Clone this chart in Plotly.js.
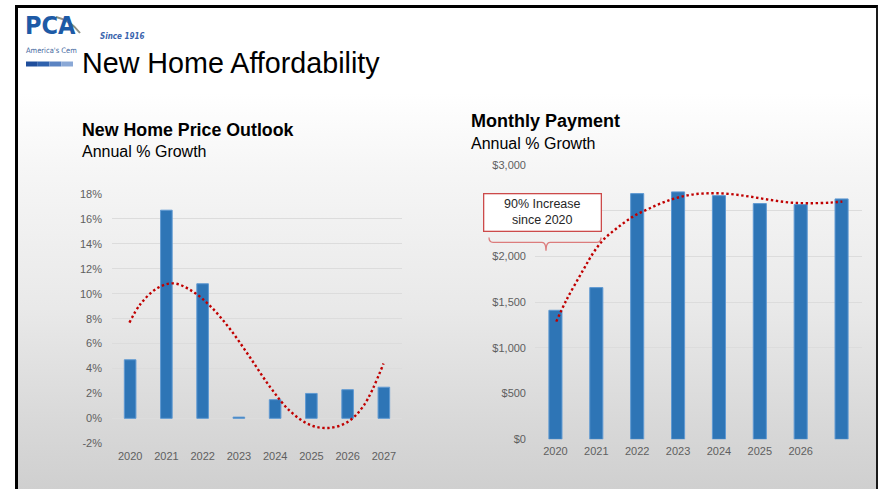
<!DOCTYPE html>
<html>
<head>
<meta charset="utf-8">
<script src="https://cdn.plot.ly/plotly-3.0.1.min.js"></script>
<style>
  html, body { margin:0; padding:0; background:#fff; }
  #frame { position:absolute; left:15px; top:5px; width:863px; height:484px; box-sizing:border-box;
    border-left:3px solid #000; border-top:3px solid #000; border-right:2px solid #1a1a1a;
    background: linear-gradient(to bottom, #ffffff 0px, #ffffff 85px, #f6f6f6 160px, #e9e9e9 300px, #d9d9d9 410px, #cfcfcf 484px); }
  #chart { position:absolute; left:0; top:0; width:879px; height:489px; }
</style>
</head>
<body>
<div id="frame"></div>
<div id="chart"></div>
<script>
// ---- data ----
const years = [2020, 2021, 2022, 2023, 2024, 2025, 2026, 2027];
const priceGrowth = [4.7, 16.7, 10.8, 0.1, 1.5, 2.0, 2.3, 2.5];
const priceTrendX = [2019.98, 2020.28, 2020.74, 2021.20, 2021.71, 2022.21, 2022.76, 2023.31, 2023.87, 2024.42, 2024.97, 2025.47, 2025.98, 2026.44, 2026.99];
const priceTrendY = [7.68, 9.15, 10.43, 10.83, 10.21, 9.01, 7.15, 4.88, 2.48, 0.56, -0.53, -0.77, -0.32, 1.01, 4.40];
const priceTickVals = [-2, 0, 2, 4, 6, 8, 10, 12, 14, 16, 18];
const priceTickText = ['-2%', '0%', '2%', '4%', '6%', '8%', '10%', '12%', '14%', '16%', '18%'];
const priceXTickVals = [2020, 2021, 2022, 2023, 2024, 2025, 2026, 2027];
const priceXTickText = ['2020', '2021', '2022', '2023', '2024', '2025', '2026', '2027'];

const payment = [1411, 1659, 2687, 2706, 2665, 2578, 2567, 2629];
const paymentTrendX = [2020.02, 2020.27, 2020.68, 2020.92, 2021.17, 2021.50, 2021.90, 2022.31, 2022.80, 2023.29, 2023.78, 2024.27, 2024.76, 2025.26, 2025.75, 2026.24, 2026.73, 2027.02];
const paymentTrendY = [1287, 1524, 1852, 2035, 2181, 2308, 2436, 2527, 2618, 2673, 2691, 2683, 2654, 2618, 2589, 2582, 2589, 2600];
const paymentTickVals = [0, 500, 1000, 1500, 2000, 2500, 3000];
const paymentTickText = ['$0', '$500', '$1,000', '$1,500', '$2,000', '', '$3,000'];
const paymentXTickVals = [2020, 2021, 2022, 2023, 2024, 2025, 2026];
const paymentXTickText = ['2020', '2021', '2022', '2023', '2024', '2025', '2026'];

// ---- helpers (pixel -> paper) ----
const W = 879, H = 489;
const X = p => p / W;
const Y = p => 1 - p / H;

const FONT = 'Liberation Sans, Arial, sans-serif';
const COND = 'DejaVu Sans Condensed, Liberation Sans Narrow, Arial Narrow, sans-serif';
const barColor = '#2e75b6';
const barEdge = '#5f99d2';
const trendColor = '#c00000';
const tickFont = {family: FONT, size: 11, color: '#5f5f5f'};

const traces = [
  {type:'bar', x: years, y: priceGrowth, xaxis:'x', yaxis:'y', width:0.32,
   marker:{color:barColor, line:{color:barEdge, width:1}}, hoverinfo:'skip'},
  {type:'scatter', mode:'lines', x: priceTrendX, y: priceTrendY, xaxis:'x', yaxis:'y',
   line:{color:trendColor, width:2.4, dash:'2.4px,2.6px', shape:'spline', smoothing:1}, hoverinfo:'skip'},
  {type:'bar', x: years, y: payment, xaxis:'x2', yaxis:'y2', width:0.32,
   marker:{color:barColor, line:{color:barEdge, width:1}}, hoverinfo:'skip'},
  {type:'scatter', mode:'lines', x: paymentTrendX, y: paymentTrendY, xaxis:'x2', yaxis:'y2',
   line:{color:trendColor, width:2.4, dash:'2.4px,2.6px', shape:'spline', smoothing:1}, hoverinfo:'skip'}
];

const gridColor = '#dcdcdc';

const braceY = 242.3;
const bracePath = `M ${X(489)},${Y(237.5)} Q ${X(489)},${Y(braceY)} ${X(493)},${Y(braceY)} L ${X(542)},${Y(braceY)} Q ${X(546)},${Y(braceY)} ${X(546)},${Y(250.7)} Q ${X(546)},${Y(braceY)} ${X(550)},${Y(braceY)} L ${X(597)},${Y(braceY)} Q ${X(601)},${Y(braceY)} ${X(601)},${Y(237.5)}`;
const swooshPath = `M ${X(56)},${Y(17)} Q ${X(70)},${Y(20)} ${X(80)},${Y(33)}`;

const logoBar = ['#1f4e9c', '#2f62ad', '#5a83c2', '#8aa8d6'];
const logoShapes = logoBar.map((c, i) => ({
  type:'rect', xref:'paper', yref:'paper', layer:'above',
  x0: X(26 + i * 11.75), x1: X(26 + (i + 1) * 11.75), y0: Y(66.5), y1: Y(61.5),
  fillcolor: c, line:{width:0}
}));

const layout = {
  width: W, height: H,
  margin:{l:0, r:0, t:0, b:0, pad:0},
  paper_bgcolor:'rgba(0,0,0,0)', plot_bgcolor:'rgba(0,0,0,0)',
  showlegend:false,
  bargap:0,
  font:{family:FONT},
  xaxis:{domain:[X(112), X(402)], range:[2019.5, 2027.5], anchor:'y',
         tickvals: priceXTickVals, ticktext: priceXTickText, showgrid:false, zeroline:false,
         showline:false, ticks:'', tickfont: tickFont, ticklabelstandoff: 5},
  yaxis:{domain:[Y(443.3), Y(194)], range:[-2, 18], anchor:'x',
         tickvals: priceTickVals, ticktext: priceTickText, showgrid:true, gridcolor:gridColor, gridwidth:1,
         zeroline:false, showline:false, ticks:'', tickfont: tickFont, ticklabelstandoff: 9},
  xaxis2:{domain:[X(535), X(862)], range:[2019.5, 2027.5], anchor:'y2',
         tickvals: paymentXTickVals, ticktext: paymentXTickText, showgrid:false, zeroline:false,
         showline:false, ticks:'', tickfont: tickFont, ticklabelstandoff: 4},
  yaxis2:{domain:[Y(439.3), Y(165)], range:[0, 3000], anchor:'x2',
         tickvals: paymentTickVals, ticktext: paymentTickText, showgrid:true, gridcolor:gridColor, gridwidth:1,
         zeroline:false, showline:false, ticks:'', tickfont: tickFont, ticklabelstandoff: 8},
  shapes: [
    {type:'path', xref:'paper', yref:'paper', path: bracePath, line:{color:'#dc7c7c', width:1.3}},
    {type:'path', xref:'paper', yref:'paper', path: swooshPath, line:{color:'#8f8f82', width:2}},
    ...logoShapes
  ],
  annotations: [
    {xref:'paper', yref:'paper', x:X(23), y:Y(26), xanchor:'left', yanchor:'middle', showarrow:false,
     text:'<b>PCA</b>', font:{family:COND, size:25, color:'#1d5aa6'}},
    {xref:'paper', yref:'paper', x:X(98), y:Y(36), xanchor:'left', yanchor:'middle', showarrow:false,
     text:'<b><i>Since 1916</i></b>', font:{family:COND, size:8, color:'#3a64ad'}},
    {xref:'paper', yref:'paper', x:X(24), y:Y(50), xanchor:'left', yanchor:'middle', showarrow:false,
     text:'America\'s Cem', font:{family:COND, size:7.5, color:'#44679e'}},
    {xref:'paper', yref:'paper', x:X(80), y:Y(63), xanchor:'left', yanchor:'middle', showarrow:false,
     text:'New Home Affordability', font:{family:FONT, size:28.7, color:'#000'}},
    {xref:'paper', yref:'paper', x:X(80), y:Y(130), xanchor:'left', yanchor:'middle', showarrow:false,
     text:'<b>New Home Price Outlook</b>', font:{family:FONT, size:17.8, color:'#000'}},
    {xref:'paper', yref:'paper', x:X(80), y:Y(151.5), xanchor:'left', yanchor:'middle', showarrow:false,
     text:'Annual % Growth', font:{family:FONT, size:16, color:'#000'}},
    {xref:'paper', yref:'paper', x:X(469), y:Y(120.5), xanchor:'left', yanchor:'middle', showarrow:false,
     text:'<b>Monthly Payment</b>', font:{family:FONT, size:18, color:'#000'}},
    {xref:'paper', yref:'paper', x:X(469), y:Y(143.5), xanchor:'left', yanchor:'middle', showarrow:false,
     text:'Annual % Growth', font:{family:FONT, size:16, color:'#000'}},
    {xref:'paper', yref:'paper', x:X(542.5), y:Y(213), xanchor:'center', yanchor:'middle', showarrow:false,
     text:'90% Increase<br>since 2020', align:'center', width:114, height:34, borderpad:1,
     bgcolor:'#ffffff', bordercolor:'#cc4a4a', borderwidth:1.3,
     font:{family:FONT, size:12.5, color:'#262626'}}
  ]
};

Plotly.newPlot('chart', traces, layout, {staticPlot:true, displayModeBar:false});
</script>
</body>
</html>
